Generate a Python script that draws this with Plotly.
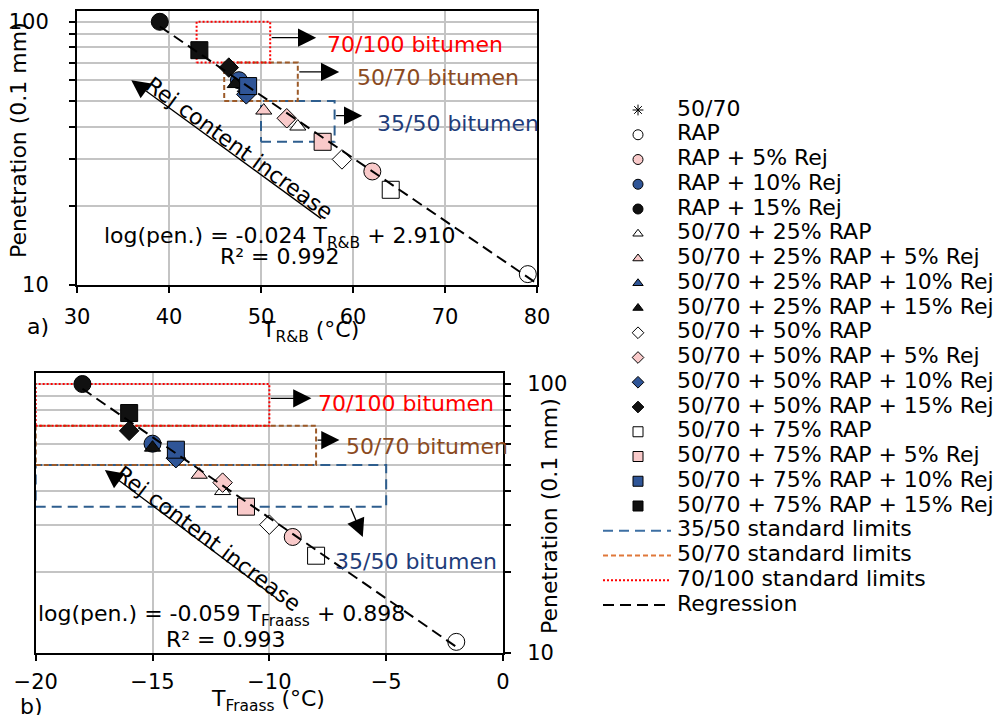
import numpy as np
import plotly.graph_objects as go

# ---------------- data ----------------
series_names = [
    "50/70", "RAP", "RAP + 5% Rej", "RAP + 10% Rej", "RAP + 15% Rej",
    "50/70 + 25% RAP", "50/70 + 25% RAP + 5% Rej", "50/70 + 25% RAP + 10% Rej", "50/70 + 25% RAP + 15% Rej",
    "50/70 + 50% RAP", "50/70 + 50% RAP + 5% Rej", "50/70 + 50% RAP + 10% Rej", "50/70 + 50% RAP + 15% Rej",
    "50/70 + 75% RAP", "50/70 + 75% RAP + 5% Rej", "50/70 + 75% RAP + 10% Rej", "50/70 + 75% RAP + 15% Rej",
]
penetration = [None, 11, 27, 60, 100, 40, 46, 56, 58, 30, 43, 53, 67, 23, 35, 57, 78]
t_rb = [None, 79, 62.1, 47.6, 39, 54, 50.3, 48.3, 47.2, 58.8, 52.8, 48.4, 46.5, 64.1, 56.7, 48.6, 43.3]
t_fraass = [None, -2, -9, -15, -18, -12, -13, -14, -15, -10, -12, -14, -16, -8, -11, -14, -16]

symbols = ["asterisk-open", "circle", "circle", "circle", "circle",
           "triangle-up", "triangle-up", "triangle-up", "triangle-up",
           "diamond", "diamond", "diamond", "diamond",
           "square", "square", "square", "square"]
PINK, BLUE, BLK = "#F9CACA", "#2F5597", "#111111"
fills = ["black", "white", PINK, BLUE, BLK,
         "white", PINK, BLUE, BLK,
         "white", PINK, BLUE, BLK,
         "white", PINK, BLUE, BLK]

# standard limits (EN 12591)
grades = ["35/50", "50/70", "70/100"]
pen_low = [35, 50, 70]
pen_high = [50, 70, 100]
rb_low = [50, 46, 43]
rb_high = [58, 54, 51]
fraass_max = [-5, -8, -10]
fraass_axis_min = -20

# regression lines (end points)
reg_top_x = [39, 79.7]
reg_top_y = [96, 10.3]
reg_bot_x = [-18, -1.9]
reg_bot_y = [96, 10.4]

limit_names = ["35/50 standard limits", "50/70 standard limits", "70/100 standard limits"]
reg_name = "Regression"

FONT = "DejaVu Sans"
box_colors = {"35/50": "#2E5E8E", "50/70": "#9C5A28", "70/100": "#FF0000"}
box_dash = {"35/50": "10px,6px", "50/70": "5px,3px", "70/100": "2px,2px"}
legend_line_colors = {"35/50": "#3D6FA3", "50/70": "#E0783A", "70/100": "#FF0000"}
REG_DASH = "11px,6px"

fig = go.Figure()

def msize(sym):
    return {"circle": 17, "square": 17, "diamond": 15, "triangle-up": 14}.get(sym, 10)

def lsize(sym):
    return {"circle": 10, "square": 10, "diamond": 9, "triangle-up": 9}.get(sym, 9)

# ---- boxes (drawn first) ----
for g, pl, ph, rl, rh, fm in zip(grades, pen_low, pen_high, rb_low, rb_high, fraass_max):
    fig.add_trace(go.Scatter(x=[rl, rh, rh, rl, rl], y=[pl, pl, ph, ph, pl], mode="lines",
                             line=dict(color=box_colors[g], width=2, dash=box_dash[g]),
                             xaxis="x", yaxis="y", hoverinfo="skip"))
    fig.add_trace(go.Scatter(x=[fraass_axis_min, fm, fm, fraass_axis_min, fraass_axis_min],
                             y=[pl, pl, ph, ph, pl], mode="lines",
                             line=dict(color=box_colors[g], width=2, dash=box_dash[g]),
                             xaxis="x2", yaxis="y2", hoverinfo="skip"))

# ---- data markers ----
for i, name in enumerate(series_names):
    sym = symbols[i]
    mk = dict(symbol=sym, size=msize(sym), color=fills[i], line=dict(color="black", width=1))
    if penetration[i] is not None:
        fig.add_trace(go.Scatter(x=[t_rb[i]], y=[penetration[i]], mode="markers", marker=mk,
                                 xaxis="x", yaxis="y", name=name))
        fig.add_trace(go.Scatter(x=[t_fraass[i]], y=[penetration[i]], mode="markers", marker=mk,
                                 xaxis="x2", yaxis="y2", name=name))

# ---- regression lines (on top) ----
fig.add_trace(go.Scatter(x=reg_top_x, y=reg_top_y, mode="lines",
                         line=dict(color="black", width=2, dash=REG_DASH),
                         xaxis="x", yaxis="y", name=reg_name))
fig.add_trace(go.Scatter(x=reg_bot_x, y=reg_bot_y, mode="lines",
                         line=dict(color="black", width=2, dash=REG_DASH),
                         xaxis="x2", yaxis="y2", name=reg_name))

# ---- legend panel (own hidden axes; x in pixels, y in row index) ----
LEG_MARK_X, LEG_TEXT_X, LEG_LINE_X = 638, 677, [603, 671]
legend_labels = series_names + limit_names + [reg_name]
for r, name in enumerate(series_names):
    sym = symbols[r]
    fig.add_trace(go.Scatter(x=[LEG_MARK_X], y=[r], mode="markers", xaxis="x3", yaxis="y3",
                             marker=dict(symbol=sym, size=lsize(sym), color=fills[r],
                                         line=dict(color="black", width=1))))
for k, g in enumerate(grades):
    r = len(series_names) + k
    fig.add_trace(go.Scatter(x=LEG_LINE_X, y=[r, r], mode="lines", xaxis="x3", yaxis="y3",
                             line=dict(color=legend_line_colors[g], width=2, dash=box_dash[g])))
r = len(series_names) + len(grades)
fig.add_trace(go.Scatter(x=LEG_LINE_X, y=[r, r], mode="lines", xaxis="x3", yaxis="y3",
                         line=dict(color="black", width=2, dash=REG_DASH)))
fig.add_trace(go.Scatter(x=[LEG_TEXT_X] * len(legend_labels), y=list(range(len(legend_labels))),
                         mode="text", text=legend_labels, textposition="middle right",
                         textfont=dict(family=FONT, size=22, color="black"),
                         xaxis="x3", yaxis="y3"))

L = np.log10
ann = []
label_colors = {"70/100": "#FF0000", "50/70": "#8B4A1E", "35/50": "#1F3D7A"}
TS = 22

def arrow(xr, yr, x, y, ax, ay):
    ann.append(dict(xref=xr, yref=yr, axref=xr, ayref=yr, x=x, y=L(y), ax=ax, ay=L(ay),
                    text="", showarrow=True, arrowhead=2, arrowsize=2.8, arrowwidth=1.3,
                    arrowcolor="black", standoff=0, startstandoff=0))

def label(xr, yr, x, y, text, color, size=TS, xanchor="left", angle=0):
    ann.append(dict(xref=xr, yref=yr, x=x, y=L(y), text=text, showarrow=False,
                    xanchor=xanchor, yanchor="middle", textangle=angle,
                    font=dict(family=FONT, size=size, color=color)))

# top plot annotations
arrow("x", "y", 56, 87, 51, 87)
label("x", "y", 57, 82, "70/100 bitumen", label_colors["70/100"])
arrow("x", "y", 58.5, 64.5, 54, 64.5)
label("x", "y", 60.2, 61.6, "50/70 bitumen", label_colors["50/70"])
arrow("x", "y", 61, 44, 58, 44)
label("x", "y", 62.4, 40.9, "35/50 bitumen", label_colors["35/50"])
arrow("x", "y", 35.9, 60, 56.7, 17.7)
label("x", "y", 47.7, 33.1, "Rej content increase", "black", xanchor="center", angle=36)
label("x", "y", 52.1, 15.1, "log(pen.) = -0.024 T<sub>R&amp;B</sub> + 2.910", "black", xanchor="center")
label("x", "y", 52.1, 12.8, "R² = 0.992", "black", xanchor="center")

# bottom plot annotations
arrow("x2", "y2", -8.2, 88.5, -10, 88.5)
label("x2", "y2", -8.0, 84.3, "70/100 bitumen", label_colors["70/100"])
arrow("x2", "y2", -7.0, 61.9, -8, 61.9)
label("x2", "y2", -6.81, 58.8, "50/70 bitumen", label_colors["50/70"])
arrow("x2", "y2", -6.0, 27, -6.54, 35)
label("x2", "y2", -7.28, 21.85, "35/50 bitumen", label_colors["35/50"])
arrow("x2", "y2", -17.04, 47.9, -9.7, 16)
label("x2", "y2", -12.62, 26.7, "Rej content increase", "black", xanchor="center", angle=37)
label("x2", "y2", -12.06, 13.8, "log(pen.) = -0.059 T<sub>Fraass</sub> + 0.898", "black", xanchor="center")
label("x2", "y2", -11.84, 11.2, "R² = 0.993", "black", xanchor="center")

# axis titles and panel labels (paper coords)
def ptext(x, y, text, angle=0, size=TS):
    ann.append(dict(xref="paper", yref="paper", x=x / 1003, y=1 - y / 715, text=text,
                    showarrow=False, xanchor="center", yanchor="middle", textangle=angle,
                    font=dict(family=FONT, size=size, color="black")))

ptext(18, 140, "Penetration (0.1 mm)", angle=-90)
ptext(310, 331, "T<sub>R&amp;B</sub> (°C)")
ptext(38, 326, "a)")
ptext(549, 516, "Penetration (0.1 mm)", angle=-90)
ptext(268, 700, "T<sub>Fraass</sub> (°C)")
ptext(32, 706, "b)")

grid = "#C4C4C4"
ytickvals = [10, 20, 30, 40, 50, 60, 70, 80, 90, 100]
yticktext = ["10", "", "", "", "", "", "", "", "", "100"]
axis_common = dict(showline=True, linecolor="black", linewidth=2, mirror=True,
                   ticks="outside", ticklen=6, tickcolor="black", tickwidth=1.5,
                   showgrid=True, gridcolor=grid, gridwidth=1.5, zeroline=False,
                   tickfont=dict(family=FONT, size=21, color="black"))

# legend axis geometry: rows at 110 + 24.75*r px
ROW0, ROWH, LTOP, LBOT = 110, 24.75, 95, 625

fig.update_layout(
    width=1003, height=715,
    margin=dict(l=0, r=0, t=0, b=0, autoexpand=False),
    paper_bgcolor="white", plot_bgcolor="white",
    font=dict(family=FONT, size=21, color="black"),
    showlegend=False,
    xaxis=dict(domain=[77 / 1003, 537 / 1003], range=[30, 80], dtick=10, tick0=30,
               anchor="y", ticklabelstandoff=6, **axis_common),
    yaxis=dict(domain=[1 - 285 / 715, 1 - 11 / 715], type="log", range=[1, 2.041],
               tickvals=ytickvals, ticktext=yticktext, anchor="x", ticklabelstandoff=16,
               **axis_common),
    xaxis2=dict(domain=[35.7 / 1003, 503 / 1003], range=[-20, 0], dtick=5, tick0=-20,
                anchor="y2", ticklabelstandoff=3, **axis_common),
    yaxis2=dict(domain=[1 - 653 / 715, 1 - 373 / 715], type="log", range=[1, 2.041],
                tickvals=ytickvals, ticktext=yticktext, anchor="x2", side="right",
                ticklabelstandoff=12, **axis_common),
    xaxis3=dict(domain=[590 / 1003, 1], range=[590, 1003], visible=False, anchor="y3"),
    yaxis3=dict(domain=[1 - LBOT / 715, 1 - LTOP / 715],
                range=[(LBOT - ROW0) / ROWH, (LTOP - ROW0) / ROWH], visible=False, anchor="x3"),
    annotations=ann,
)

fig.write_html("out.html", config={"displayModeBar": False},
               post_script="document.body.style.margin='0';")
